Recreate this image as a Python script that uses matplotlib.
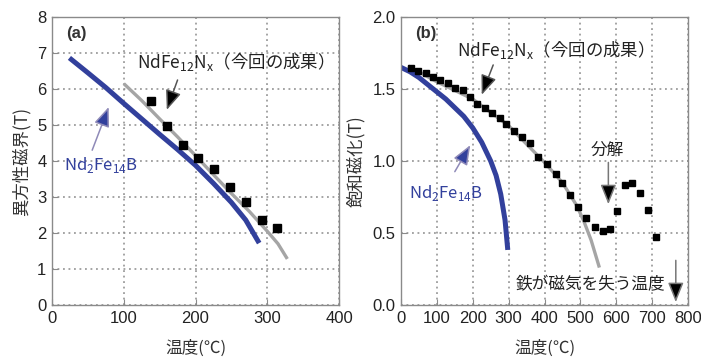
"""
Anisotropy field and saturation magnetisation vs temperature (NdFe12Nx vs Nd2Fe14B).
"""
import matplotlib
matplotlib.use('Agg')
import matplotlib.pyplot as plt

plt.rcParams['font.family'] = ['Liberation Sans', 'Noto Sans CJK JP', 'DejaVu Sans']
plt.rcParams['mathtext.fontset'] = 'custom'
plt.rcParams['mathtext.rm'] = 'Noto Sans CJK JP'

JP = 'Noto Sans CJK JP'

# (a) anisotropy field
a_nd2_t = [27, 50, 75, 100, 125, 150, 175, 200, 225, 250, 270, 287]
a_nd2_h = [6.82, 6.45, 6.04, 5.6, 5.17, 4.74, 4.32, 3.88, 3.38, 2.85, 2.36, 1.78]
a_fit_t = [100, 125, 150, 175, 200, 225, 250, 275, 300, 315, 328]
a_fit_h = [6.15, 5.68, 5.17, 4.67, 4.15, 3.62, 3.1, 2.6, 2.05, 1.7, 1.28]
a_pts_t = [138, 160, 182, 204, 226, 248, 270, 292, 313]
a_pts_h = [5.67, 4.97, 4.45, 4.07, 3.77, 3.27, 2.87, 2.37, 2.15]

# (b) saturation magnetisation
b_nd2_t = [0, 25, 50, 75, 100, 125, 150, 175, 200, 225, 250, 265, 278, 290, 297]
b_nd2_m = [1.65, 1.62, 1.58, 1.53, 1.48, 1.43, 1.37, 1.31, 1.23, 1.13, 1.0,
           0.9, 0.77, 0.59, 0.40]
b_fit_t = [20, 100, 200, 300, 400, 450, 490, 510, 530, 553]
b_fit_m = [1.66, 1.55, 1.43, 1.245, 0.99, 0.85, 0.69, 0.58, 0.45, 0.26]
b_pts_t = [27, 48, 70, 90, 110, 130, 150, 172, 192, 212, 234, 255, 276, 294,
           316, 336, 359, 382, 406, 431, 450, 471, 494, 517, 540, 564, 582,
           601, 624, 645, 667, 689, 710]
b_pts_m = [1.648, 1.627, 1.609, 1.586, 1.563, 1.54, 1.51, 1.49, 1.447, 1.396,
           1.366, 1.336, 1.296, 1.257, 1.21, 1.169, 1.123, 1.03, 0.979, 0.91,
           0.85, 0.764, 0.678, 0.602, 0.544, 0.516, 0.525, 0.655, 0.833, 0.85,
           0.776, 0.66, 0.474]

blue = '#32409c'
gray = '#a5a5a5'
ndfe = 'NdFe$_{\\mathregular{12}}$N$_{\\mathregular{x}}$（今回の成果）'
nd2 = 'Nd$_{\\mathregular{2}}$Fe$_{\\mathregular{14}}$B'

fig = plt.figure(figsize=(7.01, 3.58), dpi=100)
ax1 = fig.add_axes([52 / 701, 1 - 305 / 358, 287 / 701, 288 / 358])
ax2 = fig.add_axes([401 / 701, 1 - 305 / 358, 287 / 701, 288 / 358])


def arrow(ax, head, tail, face, edge):
    ax.annotate('', xy=head, xytext=tail,
                arrowprops=dict(arrowstyle='-|>,head_length=0.75,head_width=0.3',
                                fc=face, ec=edge, lw=1.1, mutation_scale=16,
                                shrinkA=0, shrinkB=0))


for ax in (ax1, ax2):
    ax.grid(True, color='#8c8c8c', linestyle=(0, (1.2, 2.4)), linewidth=1.1)
    ax.set_axisbelow(True)
    for s in ax.spines.values():
        s.set_color('#8a8a8a')
        s.set_linewidth(1.0)
    ax.tick_params(direction='in', length=4, color='#8a8a8a',
                   labelsize=12, labelcolor='#222222', pad=4)
    ax.set_xlabel('温度(℃)', family=JP, fontsize=12, color='#333333', labelpad=10)

# panel (a)
ax1.plot(a_fit_t, a_fit_h, color=gray, lw=2.4, solid_capstyle='butt')
ax1.plot(a_nd2_t, a_nd2_h, color=blue, lw=3.6)
ax1.plot(a_pts_t, a_pts_h, 's', color='black', ms=5.5)
ax1.set_xlim(0, 400)
ax1.set_ylim(0, 8)
ax1.set_xticks([0, 100, 200, 300, 400])
ax1.set_yticks(range(0, 9))
ax1.set_ylabel('異方性磁界(T)', family=JP, fontsize=12.5, color='#333333', labelpad=5)
ax1.text(20, 7.55, '(a)', fontsize=12, fontweight='bold', color='#333333',
         va='center')
ax1.text(118, 6.75, ndfe, family=JP, fontsize=12.5, color='#222222', va='center')
ax1.text(17, 3.9, nd2, family=JP, fontsize=12, color=blue, va='center')
arrow(ax1, (160, 5.42), (175, 6.25), 'black', '#555555')
arrow(ax1, (79, 5.5), (56, 4.3), blue, '#8f8ab8')

# panel (b)
ax2.plot(b_fit_t, b_fit_m, color=gray, lw=2.4, solid_capstyle='butt')
ax2.plot(b_nd2_t, b_nd2_m, color=blue, lw=3.6)
ax2.plot(b_pts_t, b_pts_m, 's', color='black', ms=5.0)
ax2.set_xlim(0, 800)
ax2.set_ylim(0, 2)
ax2.set_xticks(range(0, 900, 100))
ax2.set_yticks([0, 0.5, 1.0, 1.5, 2.0])
ax2.set_yticklabels(['0.0', '0.5', '1.0', '1.5', '2.0'])
ax2.set_ylabel('飽和磁化(T)', family=JP, fontsize=12.5, color='#333333', labelpad=5)
ax2.text(40, 1.887, '(b)', fontsize=12, fontweight='bold', color='#333333',
         va='center')
ax2.text(155, 1.77, ndfe, family=JP, fontsize=12.5, color='#222222', va='center')
ax2.text(23, 0.78, nd2, family=JP, fontsize=12, color=blue, va='center')
ax2.text(574, 1.076, '分解', family=JP, fontsize=12, color='#222222',
         ha='center', va='center')
ax2.text(320, 0.14, '鉄が磁気を失う温度', family=JP, fontsize=12,
         color='#222222', va='center')
arrow(ax2, (225, 1.46), (257, 1.667), 'black', '#555555')
arrow(ax2, (193, 1.11), (150, 0.926), blue, '#8f8ab8')
arrow(ax2, (578, 0.70), (578, 0.99), 'black', '#777777')
arrow(ax2, (766, 0.02), (766, 0.31), 'black', '#777777')

fig.savefig('out.png', dpi=100)
